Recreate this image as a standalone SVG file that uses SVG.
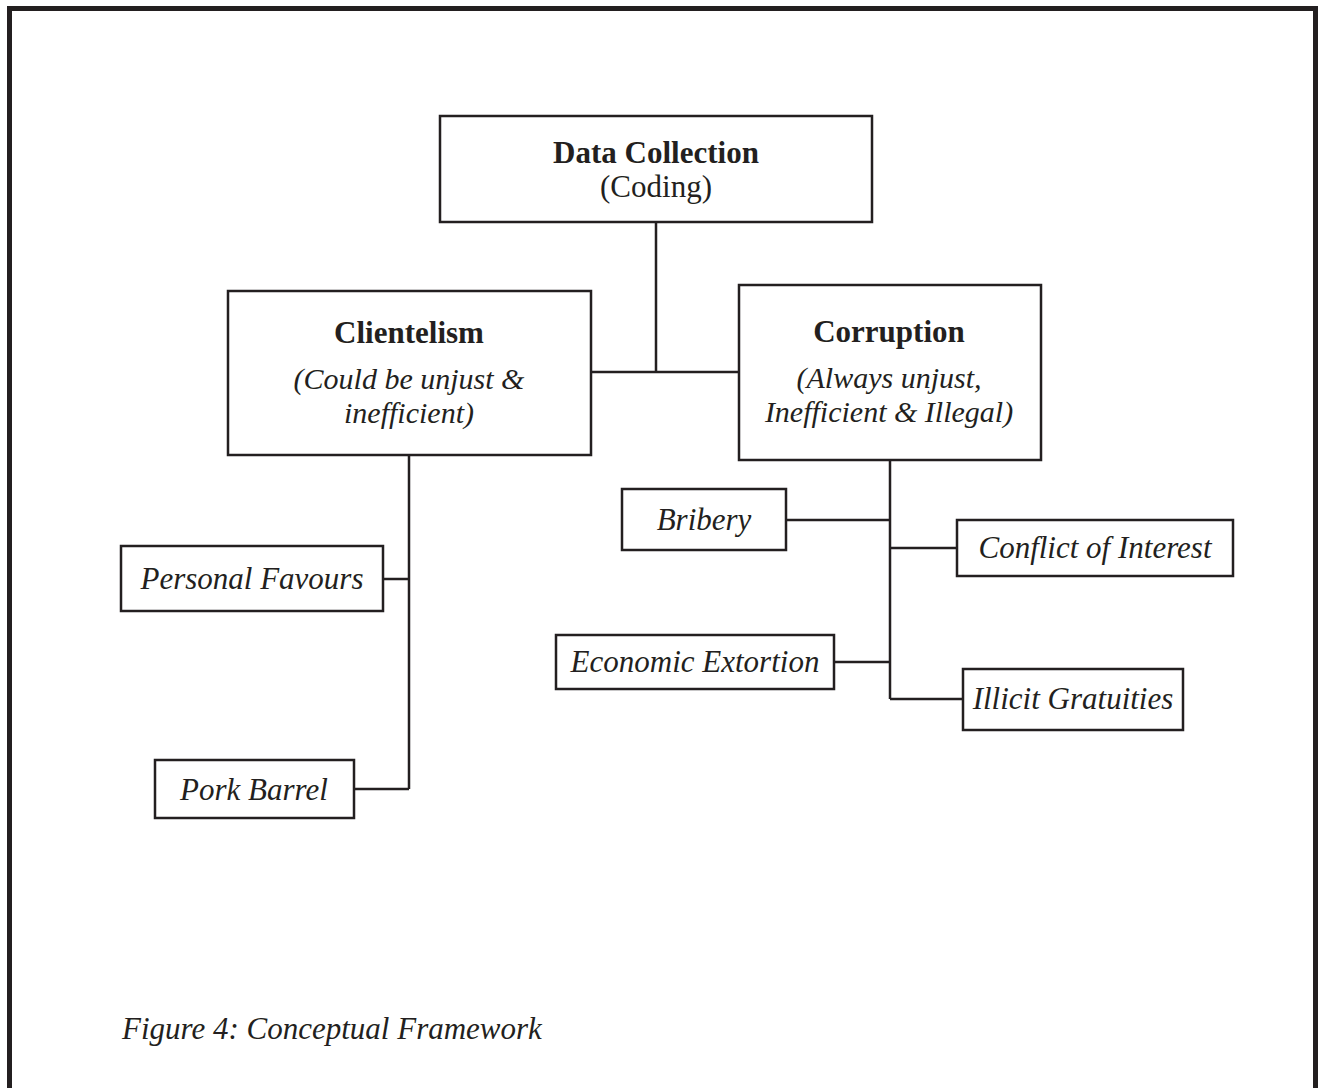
<svg xmlns="http://www.w3.org/2000/svg" width="1322" height="1088" viewBox="0 0 1322 1088">
<style>
.box{fill:#fff;stroke:#231f20;stroke-width:2.5}
.ln{fill:none;stroke:#231f20;stroke-width:2.5}
.t{font-family:"Liberation Serif","Times New Roman",serif;font-size:31px;fill:#231f20;text-anchor:middle}
.s{font-size:30px}
.b{font-weight:bold}
.i{font-style:italic}
</style>
<rect width="1322" height="1088" fill="#fff"/>
<path d="M9.5 1088 V8.5 H1315.5 V1088" fill="none" stroke="#231f20" stroke-width="5"/>
<g id="connectors">
<path class="ln" d="M656 222 V372 M591 372 H739"/>
<path class="ln" d="M409 455 V789 M383 579 H409 M354 789 H409"/>
<path class="ln" d="M890 460 V699 M786 520 H890 M890 548 H957 M834 662 H890 M890 699 H963"/>
</g>
<g id="data-collection">
<rect class="box" x="440" y="116" width="432" height="106"/>
<text class="t b" x="656" y="163">Data Collection</text>
<text class="t" x="656" y="197">(Coding)</text>
</g>
<g id="clientelism">
<rect class="box" x="228" y="291" width="363" height="164"/>
<text class="t b" x="409" y="343">Clientelism</text>
<text class="t i s" x="409" y="389">(Could be unjust &amp;</text>
<text class="t i s" x="409" y="423">inefficient)</text>
</g>
<g id="corruption">
<rect class="box" x="739" y="285" width="302" height="175"/>
<text class="t b" x="889" y="342">Corruption</text>
<text class="t i s" x="889" y="388">(Always unjust,</text>
<text class="t i s" x="889" y="422">Inefficient &amp; Illegal)</text>
</g>
<g id="personal-favours">
<rect class="box" x="121" y="546" width="262" height="65"/>
<text class="t i" x="252" y="589">Personal Favours</text>
</g>
<g id="pork-barrel">
<rect class="box" x="155" y="760" width="199" height="58"/>
<text class="t i" x="254" y="800">Pork Barrel</text>
</g>
<g id="bribery">
<rect class="box" x="622" y="489" width="164" height="61"/>
<text class="t i" x="704" y="530">Bribery</text>
</g>
<g id="conflict-of-interest">
<rect class="box" x="957" y="520" width="276" height="56"/>
<text class="t i" x="1095" y="558">Conflict of Interest</text>
</g>
<g id="economic-extortion">
<rect class="box" x="556" y="635" width="278" height="54"/>
<text class="t i" x="695" y="672">Economic Extortion</text>
</g>
<g id="illicit-gratuities">
<rect class="box" x="963" y="669" width="220" height="61"/>
<text class="t i" x="1073" y="709">Illicit Gratuities</text>
</g>
<text class="t i" x="122" y="1039" style="text-anchor:start">Figure 4: Conceptual Framework</text>
</svg>
